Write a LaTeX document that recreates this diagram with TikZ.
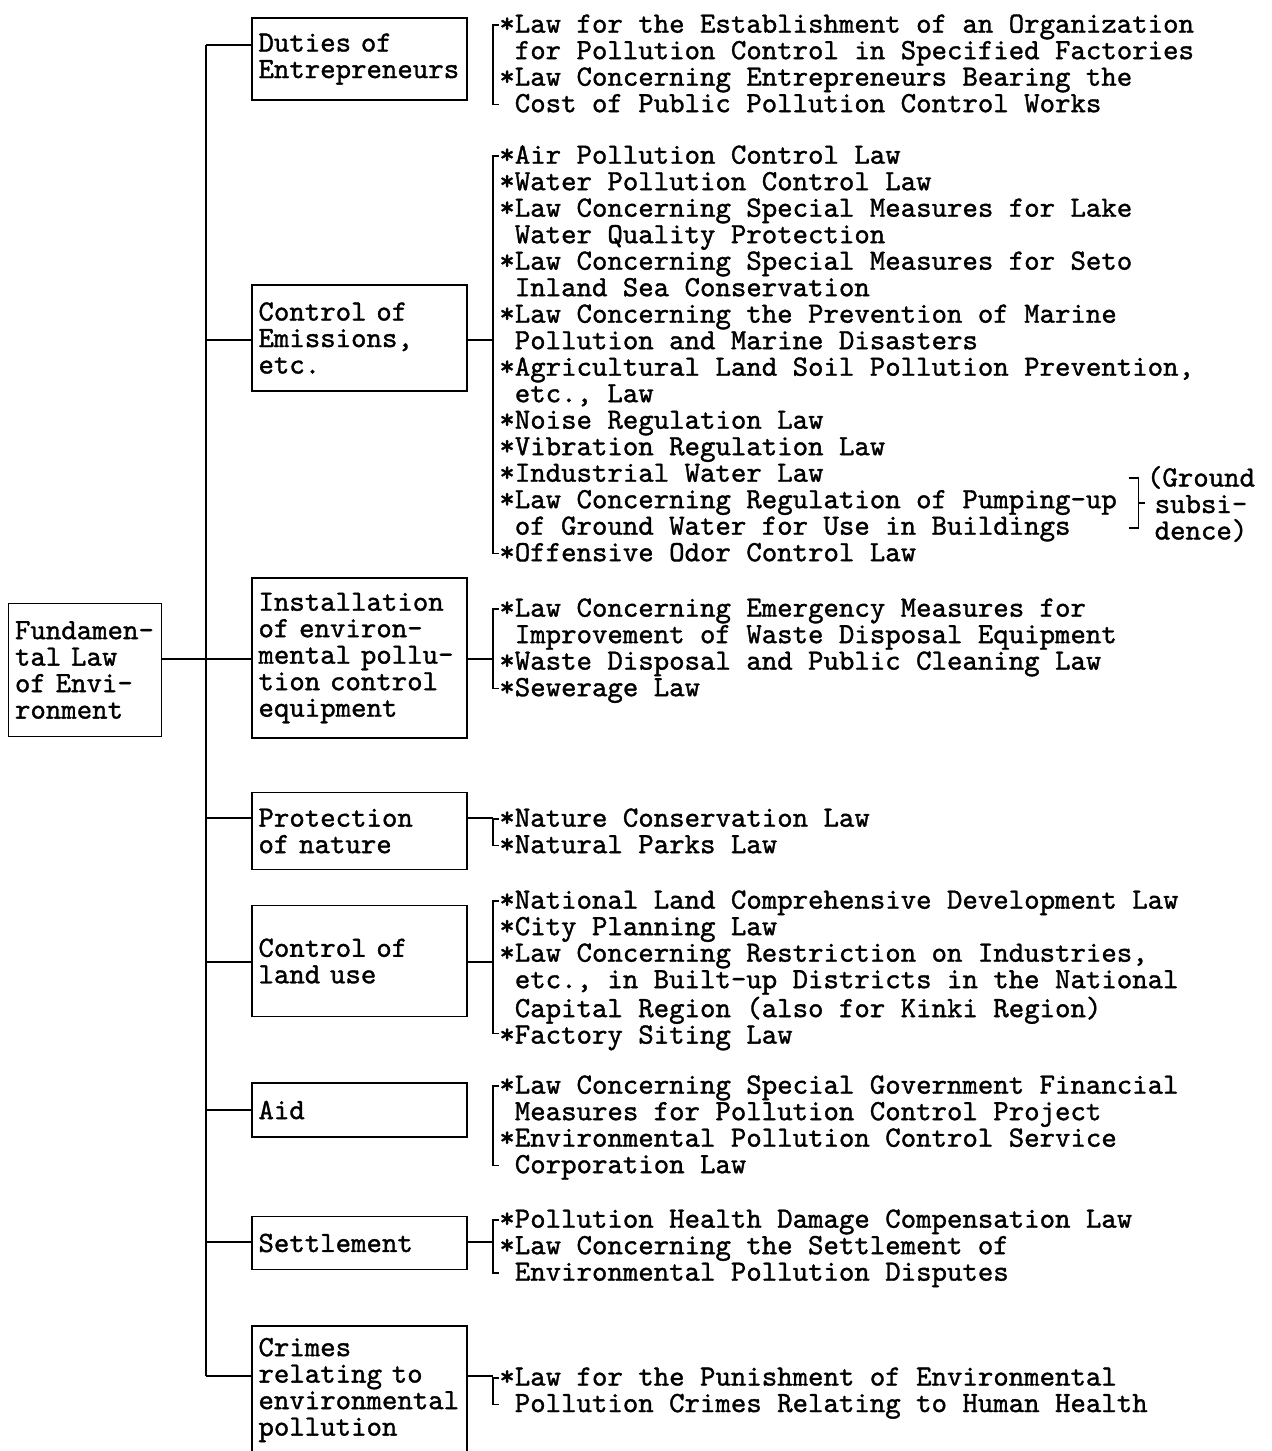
\documentclass[tikz,border=0pt]{standalone}
\usepackage{fontspec}
\newfontfamily\lawtype[FakeBold=1.2]{lmmono10-regular.otf}
\usepackage{tikz}
\usetikzlibrary{positioning,calc}
\tikzset{
  lawfont/.style={font=\lawtype\fontsize{14.7pt}{13.25pt}\selectfont},
  lawbox/.style={draw, line width=0.8pt, lawfont, align=left,
    text width=101pt, inner xsep=3.25pt, inner ysep=0pt},
  lawlist/.style={lawfont, align=left, inner sep=0pt, anchor=north west},
  lawline/.style={line width=0.8pt},
}

\begin{document}
\begin{tikzpicture}[x=0.5pt, y=-0.5pt]
  \useasboundingbox (0,0) rectangle (1271,1451);
  % root of the tree
  \node[lawbox, text width=70pt, minimum height=66.5pt] (root) at (85,670)
    {Fundamen-\\tal Law\\of Envi-\\ronment};
  % fields
  \node[lawbox, minimum height=41pt]   (duties) at (359.5,59)   {Duties of\\Entrepreneurs};
  \node[lawbox, minimum height=53pt]   (emis)   at (359.5,338)  {Control of\\Emissions,\\etc.};
  \node[lawbox, minimum height=80pt]   (inst)   at (359.5,658)  {Installation\\of environ-\\mental pollu-\\tion control\\equipment};
  \node[lawbox, minimum height=38.5pt] (prot)   at (359.5,831)  {Protection\\of nature};
  \node[lawbox, minimum height=55.5pt] (land)   at (359.5,961)  {Control of\\land use};
  \node[lawbox, minimum height=27pt]   (aid)    at (359.5,1110) {Aid};
  \node[lawbox, minimum height=26.5pt] (settle) at (359.5,1243) {Settlement};
  \node[lawbox, minimum height=64pt]   (crimes) at (359.5,1390) {Crimes\\relating to\\environmental\\pollution};
  % spine and branches
  \coordinate (c-duties) at (206,45);
  \coordinate (c-emis)   at (206,340);
  \coordinate (c-inst)   at (206,659);
  \coordinate (c-prot)   at (206,818);
  \coordinate (c-land)   at (206,962);
  \coordinate (c-aid)    at (206,1110);
  \coordinate (c-settle) at (206,1242);
  \coordinate (c-crimes) at (206,1376);
  \draw[lawline] (c-duties) -- (c-crimes);
  \draw[lawline] (root.east |- c-inst) -- (c-inst);
  \foreach \n in {duties,emis,inst,prot,land,aid,settle,crimes}
    \draw[lawline] (c-\n) -- (c-\n -| \n.west);
  % laws of each field
  \node[lawlist] (duties-laws) at (499,14) {{*}Law for the Establishment of an Organization\\
    ~for Pollution Control in Specified Factories\\
    {*}Law Concerning Entrepreneurs Bearing the\\
    ~Cost of Public Pollution Control Works};
  \node[lawlist] (emis-laws) at (499,145) {{*}Air Pollution Control Law\\
    {*}Water Pollution Control Law\\
    {*}Law Concerning Special Measures for Lake\\
    ~Water Quality Protection\\
    {*}Law Concerning Special Measures for Seto\\
    ~Inland Sea Conservation\\
    {*}Law Concerning the Prevention of Marine\\
    ~Pollution and Marine Disasters\\
    {*}Agricultural Land Soil Pollution Prevention,\\
    ~etc., Law\\
    {*}Noise Regulation Law\\
    {*}Vibration Regulation Law\\
    {*}Industrial Water Law\\
    {*}Law Concerning Regulation of Pumping-up\\
    ~of Ground Water for Use in Buildings\\
    {*}Offensive Odor Control Law};
  \node[lawlist] (inst-laws) at (499,598) {{*}Law Concerning Emergency Measures for\\
    ~Improvement of Waste Disposal Equipment\\
    {*}Waste Disposal and Public Cleaning Law\\
    {*}Sewerage Law};
  \node[lawlist] (prot-laws) at (499,808) {{*}Nature Conservation Law\\
    {*}Natural Parks Law};
  \node[lawlist] (land-laws) at (499,890) {{*}National Land Comprehensive Development Law\\
    {*}City Planning Law\\
    {*}Law Concerning Restriction on Industries,\\
    ~etc., in Built-up Districts in the National\\
    ~Capital Region (also for Kinki Region)\\
    {*}Factory Siting Law};
  \node[lawlist] (aid-laws) at (499,1075) {{*}Law Concerning Special Government Financial\\
    ~Measures for Pollution Control Project\\
    {*}Environmental Pollution Control Service\\
    ~Corporation Law};
  \node[lawlist] (settle-laws) at (499,1209) {{*}Pollution Health Damage Compensation Law\\
    {*}Law Concerning the Settlement of\\
    ~Environmental Pollution Disputes};
  \node[lawlist] (crimes-laws) at (499,1367) {{*}Law for the Punishment of Environmental\\
    ~Pollution Crimes Relating to Human Health};
  \foreach \n/\k in {duties/4,emis/16,inst/4,prot/2,land/6,aid/4,settle/3,crimes/2}
    \draw[lawline] ($(\n-laws.north west)+(0,11)$) -- ++(-6,0) -- ++(0,{(\k-1)*26.5}) -- ++(6,0);
  \foreach \n in {emis,inst,prot,land,settle,crimes}
    \draw[lawline] (c-\n -| \n.east) -- ($(c-\n -| \n-laws.west)+(-6,0)$);
  % ground subsidence
  \node[lawfont, align=center, inner sep=0pt] (subs) at (1201,504) {(Ground\\subsi-\\dence)};
  \draw[lawline] ($(subs.west)+(-18,-26)$) -- ++(10,0) -- ++(0,50) -- ++(-10,0);
  \draw[lawline] ($(subs.west)+(-8,-1)$) -- ++(6,0);
\end{tikzpicture}
\end{document}
